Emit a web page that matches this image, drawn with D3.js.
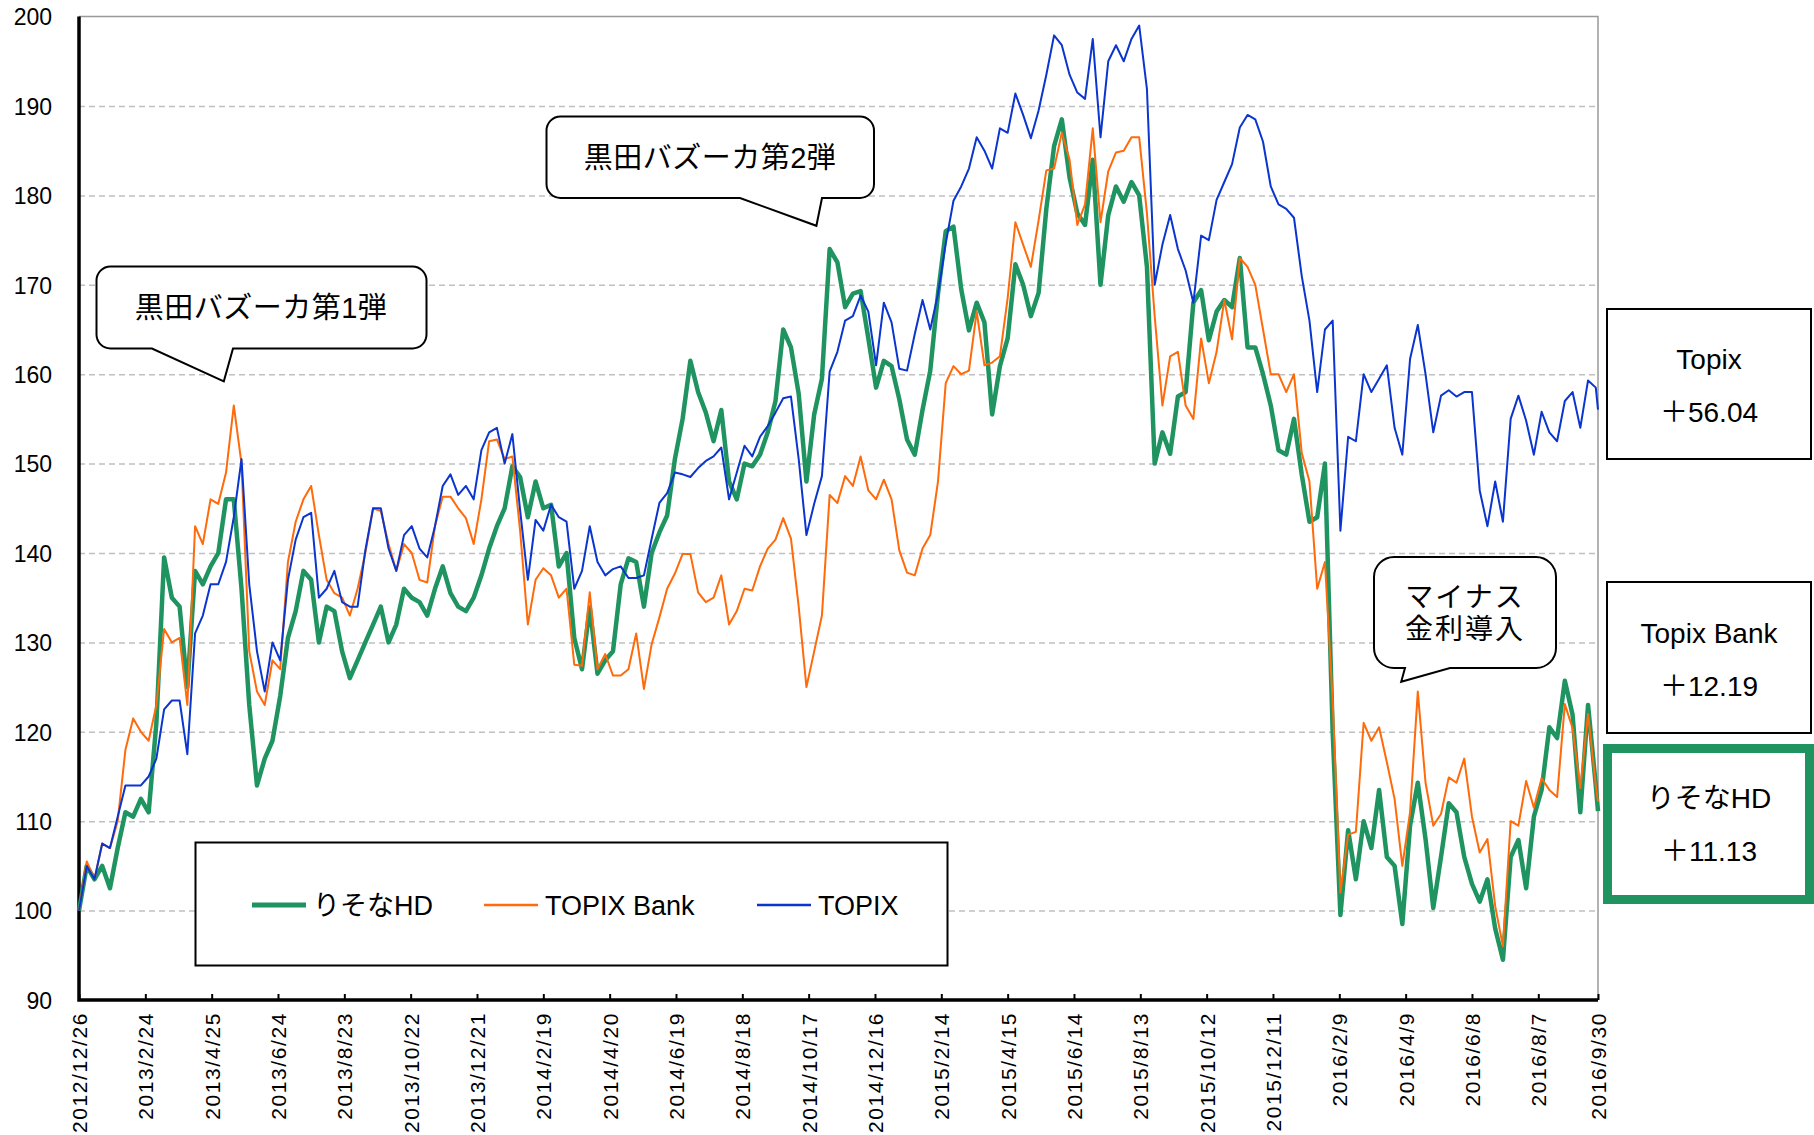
<!DOCTYPE html>
<html><head><meta charset="utf-8">
<script src="https://cdn.jsdelivr.net/npm/d3@7"></script>
<style>
html,body{margin:0;padding:0;background:#fff;}
svg{display:block;font-family:"Liberation Sans",Arial,"Noto Sans CJK JP",sans-serif;}
</style></head><body>
<svg id="chart" width="1814" height="1135"></svg>
<script>
// ---- data ----
const dates = [
"2012/12/26",
"2013/1/2","2013/1/9","2013/1/16","2013/1/23","2013/1/30","2013/2/6","2013/2/13","2013/2/20","2013/2/27","2013/3/6","2013/3/13","2013/3/20","2013/3/27","2013/4/3","2013/4/10","2013/4/17","2013/4/24","2013/5/1","2013/5/8","2013/5/15","2013/5/22","2013/5/29","2013/6/5","2013/6/12","2013/6/19","2013/6/26","2013/7/3","2013/7/10","2013/7/17","2013/7/24","2013/7/31","2013/8/7","2013/8/14","2013/8/21","2013/8/28","2013/9/4","2013/9/11","2013/9/18","2013/9/25","2013/10/2","2013/10/9","2013/10/16","2013/10/23","2013/10/30","2013/11/6","2013/11/13","2013/11/20","2013/11/27","2013/12/4","2013/12/11","2013/12/18","2013/12/25",
"2014/1/1","2014/1/8","2014/1/15","2014/1/22","2014/1/29","2014/2/5","2014/2/12","2014/2/19","2014/2/26","2014/3/5","2014/3/12","2014/3/19","2014/3/26","2014/4/2","2014/4/9","2014/4/16","2014/4/23","2014/4/30","2014/5/7","2014/5/14","2014/5/21","2014/5/28","2014/6/4","2014/6/11","2014/6/18","2014/6/25","2014/7/2","2014/7/9","2014/7/16","2014/7/23","2014/7/30","2014/8/6","2014/8/13","2014/8/20","2014/8/27","2014/9/3","2014/9/10","2014/9/17","2014/9/24","2014/10/1","2014/10/8","2014/10/15","2014/10/22","2014/10/29","2014/11/5","2014/11/12","2014/11/19","2014/11/26","2014/12/3","2014/12/10","2014/12/17","2014/12/24","2014/12/31",
"2015/1/7","2015/1/14","2015/1/21","2015/1/28","2015/2/4","2015/2/11","2015/2/18","2015/2/25","2015/3/4","2015/3/11","2015/3/18","2015/3/25","2015/4/1","2015/4/8","2015/4/15","2015/4/22","2015/4/29","2015/5/6","2015/5/13","2015/5/20","2015/5/27","2015/6/3","2015/6/10","2015/6/17","2015/6/24","2015/7/1","2015/7/8","2015/7/15","2015/7/22","2015/7/29","2015/8/5","2015/8/12","2015/8/19","2015/8/26","2015/9/2","2015/9/9","2015/9/16","2015/9/23","2015/9/30","2015/10/7","2015/10/14","2015/10/21","2015/10/28","2015/11/4","2015/11/11","2015/11/18","2015/11/25","2015/12/2","2015/12/9","2015/12/16","2015/12/23","2015/12/30",
"2016/1/6","2016/1/13","2016/1/20","2016/1/27","2016/2/3","2016/2/10","2016/2/17","2016/2/24","2016/3/2","2016/3/9","2016/3/16","2016/3/23","2016/3/30","2016/4/6","2016/4/13","2016/4/20","2016/4/27","2016/5/4","2016/5/11","2016/5/18","2016/5/25","2016/6/1","2016/6/8","2016/6/15","2016/6/22","2016/6/29","2016/7/6","2016/7/13","2016/7/20","2016/7/27","2016/8/3","2016/8/10","2016/8/17","2016/8/24","2016/8/31","2016/9/7","2016/9/14","2016/9/21","2016/9/28","2016/9/30"
];

const resona = [
100,105,103.5,105,102.5,107,111,110.5,112.5,111,121,139.5,135,134,125,138,136.5,138.5,140,146,146,136,123,114,117,119,124,130.5,133.5,138,137,130,134,133.5,129,126,128,130,132,134,130,132,136,135,134.5,133,136,138.5,135.5,134,133.5,135,
137.5,140.5,143,145,149.7,148.5,144,148,145,145.4,138.5,140,130.5,127,133.9,126.5,128,129,136.5,139.4,139,134,140,142.3,144.2,150.5,155,161.5,158,155.7,152.5,156,148,146,150,149.7,151,153.5,157,165,163,157.8,148,155.5,159.5,174,172.5,167.5,169,169.3,
164,158.5,161.5,160.9,157.2,152.7,151,156,160.4,169,176,176.5,169.5,164.9,168,165.8,155.5,160.9,164,172.3,170,166.5,169.1,178.5,185.5,188.5,182,178,176.7,184,170,177.8,181,179.3,181.5,180,172,150,153.5,151.1,157.5,158,168,169.4,163.8,167,168.3,167.5,173,
163,163,160,156.5,151.5,151,155,148.8,143.5,144,150,120,99.5,109,103.5,110,107,113.5,106,105,98.5,109.5,114.3,108,100.3,106,112,111,106,103,101,103.5,98,94.5,106,107.9,102.5,110.5,113.5,120.5,119.3,125.7,121.9,111,123,114,
111.13
];

const topixBank = [
100,105.5,103.5,107.5,107,110,118,121.5,120,119,123,131.5,130,130.5,123,143,141,146,145.5,149,156.5,150,129,124.5,123,128,127,139,143.5,146,147.5,142,137,135.5,135,133,136,140,145,144.7,141,138,141,140,137,136.7,143,146.3,146.3,145,143.9,141,
146,152.5,152.7,150.5,150.8,142.5,132,137,138.3,137.5,135,136,127.5,127.4,135.6,127,128.7,126.3,126.3,127,131,124.8,129.8,132.8,136,137.7,139.9,139.9,135.6,134.5,135,137.5,132,133.5,136,135.8,138.5,140.5,141.5,143.9,141.6,134,125,129,133,146.5,145.6,148.6,147.5,150.8,
147,146,148.2,146,140.3,137.8,137.5,140.5,142,148,159,160.9,160,160.4,167,161,161.3,162,168.5,177,174.5,172,177.2,182.8,183,187,184,176.7,179,187.5,177,182.7,184.8,185,186.5,186.5,178,166.5,156.5,162,162.5,156.5,155,164,159,162.5,168.3,163.9,173,
172,170,165,160,160,158,160,151.2,148,136,139,123.5,102,108.5,108.8,121,119,120.5,116.6,112.5,105,111,124.5,114.3,109.5,110.8,114.9,114.3,117,110.5,106.5,108,100.5,96,110,109.5,114.5,111.5,114.8,113.5,112.7,123.1,120.4,113.7,122,114,
112.19
];

const topix = [
100,105,103.5,107.5,107,110.5,114,114,114,115,117,122.5,123.5,123.5,117.5,131,133,136.5,136.5,139,144,150.5,136.5,129,124.5,130,128,137,141.5,144,144.5,135,136,138,134.5,134,134,140.3,145,145,140.5,138,142,143,140.5,139.5,143,147.5,148.8,146.5,147.5,146,
151.5,153.5,154,150,153.3,144.8,137,143.7,142.5,145.4,144,143.5,136,138,143,139,137.5,138.2,138.5,137.2,137.2,137.5,141.6,145.6,146.7,149,148.8,148.5,149.5,150.3,150.8,151.8,146,149,152,150.8,153,154.2,155.7,157.3,157.5,150.5,142,145.5,148.6,160.3,162.5,166,166.5,168.8,
167,161,168,165.8,160.6,160.4,164.5,168.3,165,169,174.6,179.4,181,183,186.5,185,183,187.5,187,191.4,189,186.4,189.5,193.5,197.9,196.8,193.5,191.5,190.8,197.5,186.5,195,196.8,195,197.5,199,191.9,170,174.5,177.8,174,171.6,168,175.5,175,179.5,181.5,183.5,187.6,
189,188.5,186,181,179,178.5,177.5,171,166,158,165,166,142.5,153,152.5,160,158,159.5,161,154,151,161.7,165.5,160,153.5,157.6,158.2,157.5,158,158,147,143,148,143.5,155,157.6,154.8,151,155.8,153.5,152.5,157,158,154,159.3,158.5,
156.04
];

const seriesNames = ["りそなHD", "TOPIX Bank", "TOPIX"];
const seriesColors = ["#1f9461", "#ff6a0a", "#0a35cf"];
const seriesWidths = [4.5, 2, 2];

const yTicks = [90,100,110,120,130,140,150,160,170,180,190,200];
const xTickLabels = ["2012/12/26","2013/2/24","2013/4/25","2013/6/24","2013/8/23","2013/10/22","2013/12/21","2014/2/19","2014/4/20","2014/6/19","2014/8/18","2014/10/17","2014/12/16","2015/2/14","2015/4/15","2015/6/14","2015/8/13","2015/10/12","2015/12/11","2016/2/9","2016/4/9","2016/6/8","2016/8/7","2016/9/30"];

const boxTitles = ["Topix", "Topix Bank", "りそなHD"];
const boxValues = ["＋56.04", "＋12.19", "＋11.13"];

const calloutTexts = [["黒田バズーカ第1弾"], ["黒田バズーカ第2弾"], ["マイナス", "金利導入"]];
const calloutTipDates = ["2013/5/6", "2014/10/24", "2016/4/5"];
const calloutTipValues = [159.2, 176.6, 125.6];

// ---- helpers ----
function parseDate(s){ const p = s.split("/").map(Number); return new Date(p[0], p[1]-1, p[2]); }

const svg = d3.select("#chart");
const L = 79, R = 1598, T = 16.6, B = 1000;

const x = d3.scaleTime().domain([parseDate("2012/12/26"), parseDate("2016/9/30")]).range([L, R]);
const y = d3.scaleLinear().domain([90, 200]).range([B, T]);

// gridlines
svg.append("g")
  .attr("transform", `translate(${L},0)`)
  .call(d3.axisLeft(y).tickValues(yTicks.filter(v => v > 90 && v < 200)).tickSize(-(R - L)).tickFormat(""))
  .call(g => g.select(".domain").remove())
  .call(g => g.selectAll("line").attr("stroke", "#c0c0c0").attr("stroke-width", 1.5).attr("stroke-dasharray", "6,4"));

// plot border top/right (gray)
svg.append("path")
  .attr("d", `M${L},${y(200)}H${R}V${B}`)
  .attr("fill", "none").attr("stroke", "#999").attr("stroke-width", 1.5);

// y labels
svg.append("g")
  .attr("transform", `translate(${L},0)`)
  .call(d3.axisLeft(y).tickValues(yTicks).tickSize(0).tickPadding(27).tickFormat(d3.format("d")))
  .call(g => g.select(".domain").remove())
  .call(g => g.selectAll("text").attr("font-size", 23).attr("fill", "#000")
        .attr("font-family", '"Liberation Sans",Arial,sans-serif').attr("dy", "0.36em"));

// x axis
const tickDates = xTickLabels.map(parseDate);
svg.append("g")
  .attr("transform", `translate(0,${B})`)
  .call(d3.axisBottom(x).tickValues(tickDates).tickSize(-6).tickFormat((d, i) => xTickLabels[i]))
  .call(g => g.select(".domain").remove())
  .call(g => g.selectAll("line").attr("stroke", "#000").attr("stroke-width", 2))
  .call(g => g.selectAll("text")
      .attr("transform", "rotate(-90)")
      .attr("x", -12).attr("y", 0).attr("dy", "0.36em")
      .attr("text-anchor", "end")
      .attr("font-size", 21)
      .attr("letter-spacing", "1.6px")
      .attr("font-family", '"Liberation Sans",Arial,sans-serif')
      .attr("fill", "#000"));

// axis lines
svg.append("path").attr("d", `M${L},${y(200)}V${B}H${R}`)
  .attr("fill", "none").attr("stroke", "#000").attr("stroke-width", 3.5);

// series
const n = Math.min(dates.length, resona.length, topixBank.length, topix.length);
const allSeries = [resona, topixBank, topix];
const line = d3.line().x(d => x(d.date)).y(d => y(d.v));
allSeries.forEach((vals, si) => {
  const pts = d3.range(n).map(i => ({date: parseDate(dates[i]), v: vals[i]}));
  svg.append("path").datum(pts)
    .attr("d", line)
    .attr("fill", "none")
    .attr("stroke", seriesColors[si])
    .attr("stroke-width", seriesWidths[si])
    .attr("stroke-linejoin", "round");
});

// legend
const lg = svg.append("g");
lg.append("rect").attr("x", 195.5).attr("y", 842.5).attr("width", 752).attr("height", 123)
  .attr("fill", "#fff").attr("stroke", "#000").attr("stroke-width", 2);
const legendX = [252, 484, 757];
seriesNames.forEach((nm, i) => {
  lg.append("line").attr("x1", legendX[i]).attr("x2", legendX[i] + 54).attr("y1", 905).attr("y2", 905)
    .attr("stroke", seriesColors[i]).attr("stroke-width", seriesWidths[i] + 0.5);
  lg.append("text").attr("x", legendX[i] + 61).attr("y", 905).attr("dy", "0.36em")
    .attr("font-size", 27).attr("fill", "#000").text(nm);
});

// callouts
function calloutPath(x0, y0, x1, y1, r, pLeft, pRight, tx, ty){
  return `M${x0 + r},${y0}H${x1 - r}A${r},${r} 0 0 1 ${x1},${y0 + r}V${y1 - r}A${r},${r} 0 0 1 ${x1 - r},${y1}` +
         `H${pRight}L${tx},${ty}L${pLeft},${y1}H${x0 + r}A${r},${r} 0 0 1 ${x0},${y1 - r}V${y0 + r}A${r},${r} 0 0 1 ${x0 + r},${y0}Z`;
}
const calloutBoxes = [
  {x0: 96.5, y0: 266.5, x1: 426.5, y1: 348.5, r: 14, pl: 152, pr: 233, tx: 261, ty: [308], fs: 29, ls: 0.5},
  {x0: 546.5, y0: 116.5, x1: 874, y1: 198, r: 14, pl: 740, pr: 822, tx: 710, ty: [158], fs: 29, ls: 0.5},
  {x0: 1374, y0: 557, x1: 1556, y1: 668, r: 20, pl: 1405, pr: 1450, tx: 1465, ty: [597, 629], fs: 28, ls: 2}
];
calloutBoxes.forEach((b, i) => {
  const tipX = x(parseDate(calloutTipDates[i])), tipY = y(calloutTipValues[i]);
  svg.append("path").attr("d", calloutPath(b.x0, b.y0, b.x1, b.y1, b.r, b.pl, b.pr, tipX, tipY))
    .attr("fill", "#fff").attr("stroke", "#000").attr("stroke-width", 2).attr("stroke-linejoin", "miter");
  calloutTexts[i].forEach((t, j) => {
    svg.append("text").attr("x", b.tx).attr("y", b.ty[j]).attr("dy", "0.36em")
      .attr("text-anchor", "middle").attr("font-size", b.fs).attr("fill", "#000")
      .attr("letter-spacing", b.ls + "px").text(t);
  });
});

// right side result boxes
const rboxes = [
  {x: 1607, y: 309, w: 204, h: 150, stroke: "#000", sw: 2, ty: [359, 412]},
  {x: 1607, y: 582, w: 204, h: 151, stroke: "#000", sw: 2, ty: [633, 686]},
  {x: 1607.5, y: 748.5, w: 202, h: 151, stroke: seriesColors[0], sw: 9, ty: [798, 851]}
];
rboxes.forEach((b, i) => {
  svg.append("rect").attr("x", b.x).attr("y", b.y).attr("width", b.w).attr("height", b.h)
    .attr("fill", "#fff").attr("stroke", b.stroke).attr("stroke-width", b.sw);
  [boxTitles[i], boxValues[i]].forEach((t, j) => {
    svg.append("text").attr("x", 1709).attr("y", b.ty[j]).attr("dy", "0.36em")
      .attr("text-anchor", "middle").attr("font-size", 28).attr("fill", "#000").text(t);
  });
});
</script>
</body></html>
